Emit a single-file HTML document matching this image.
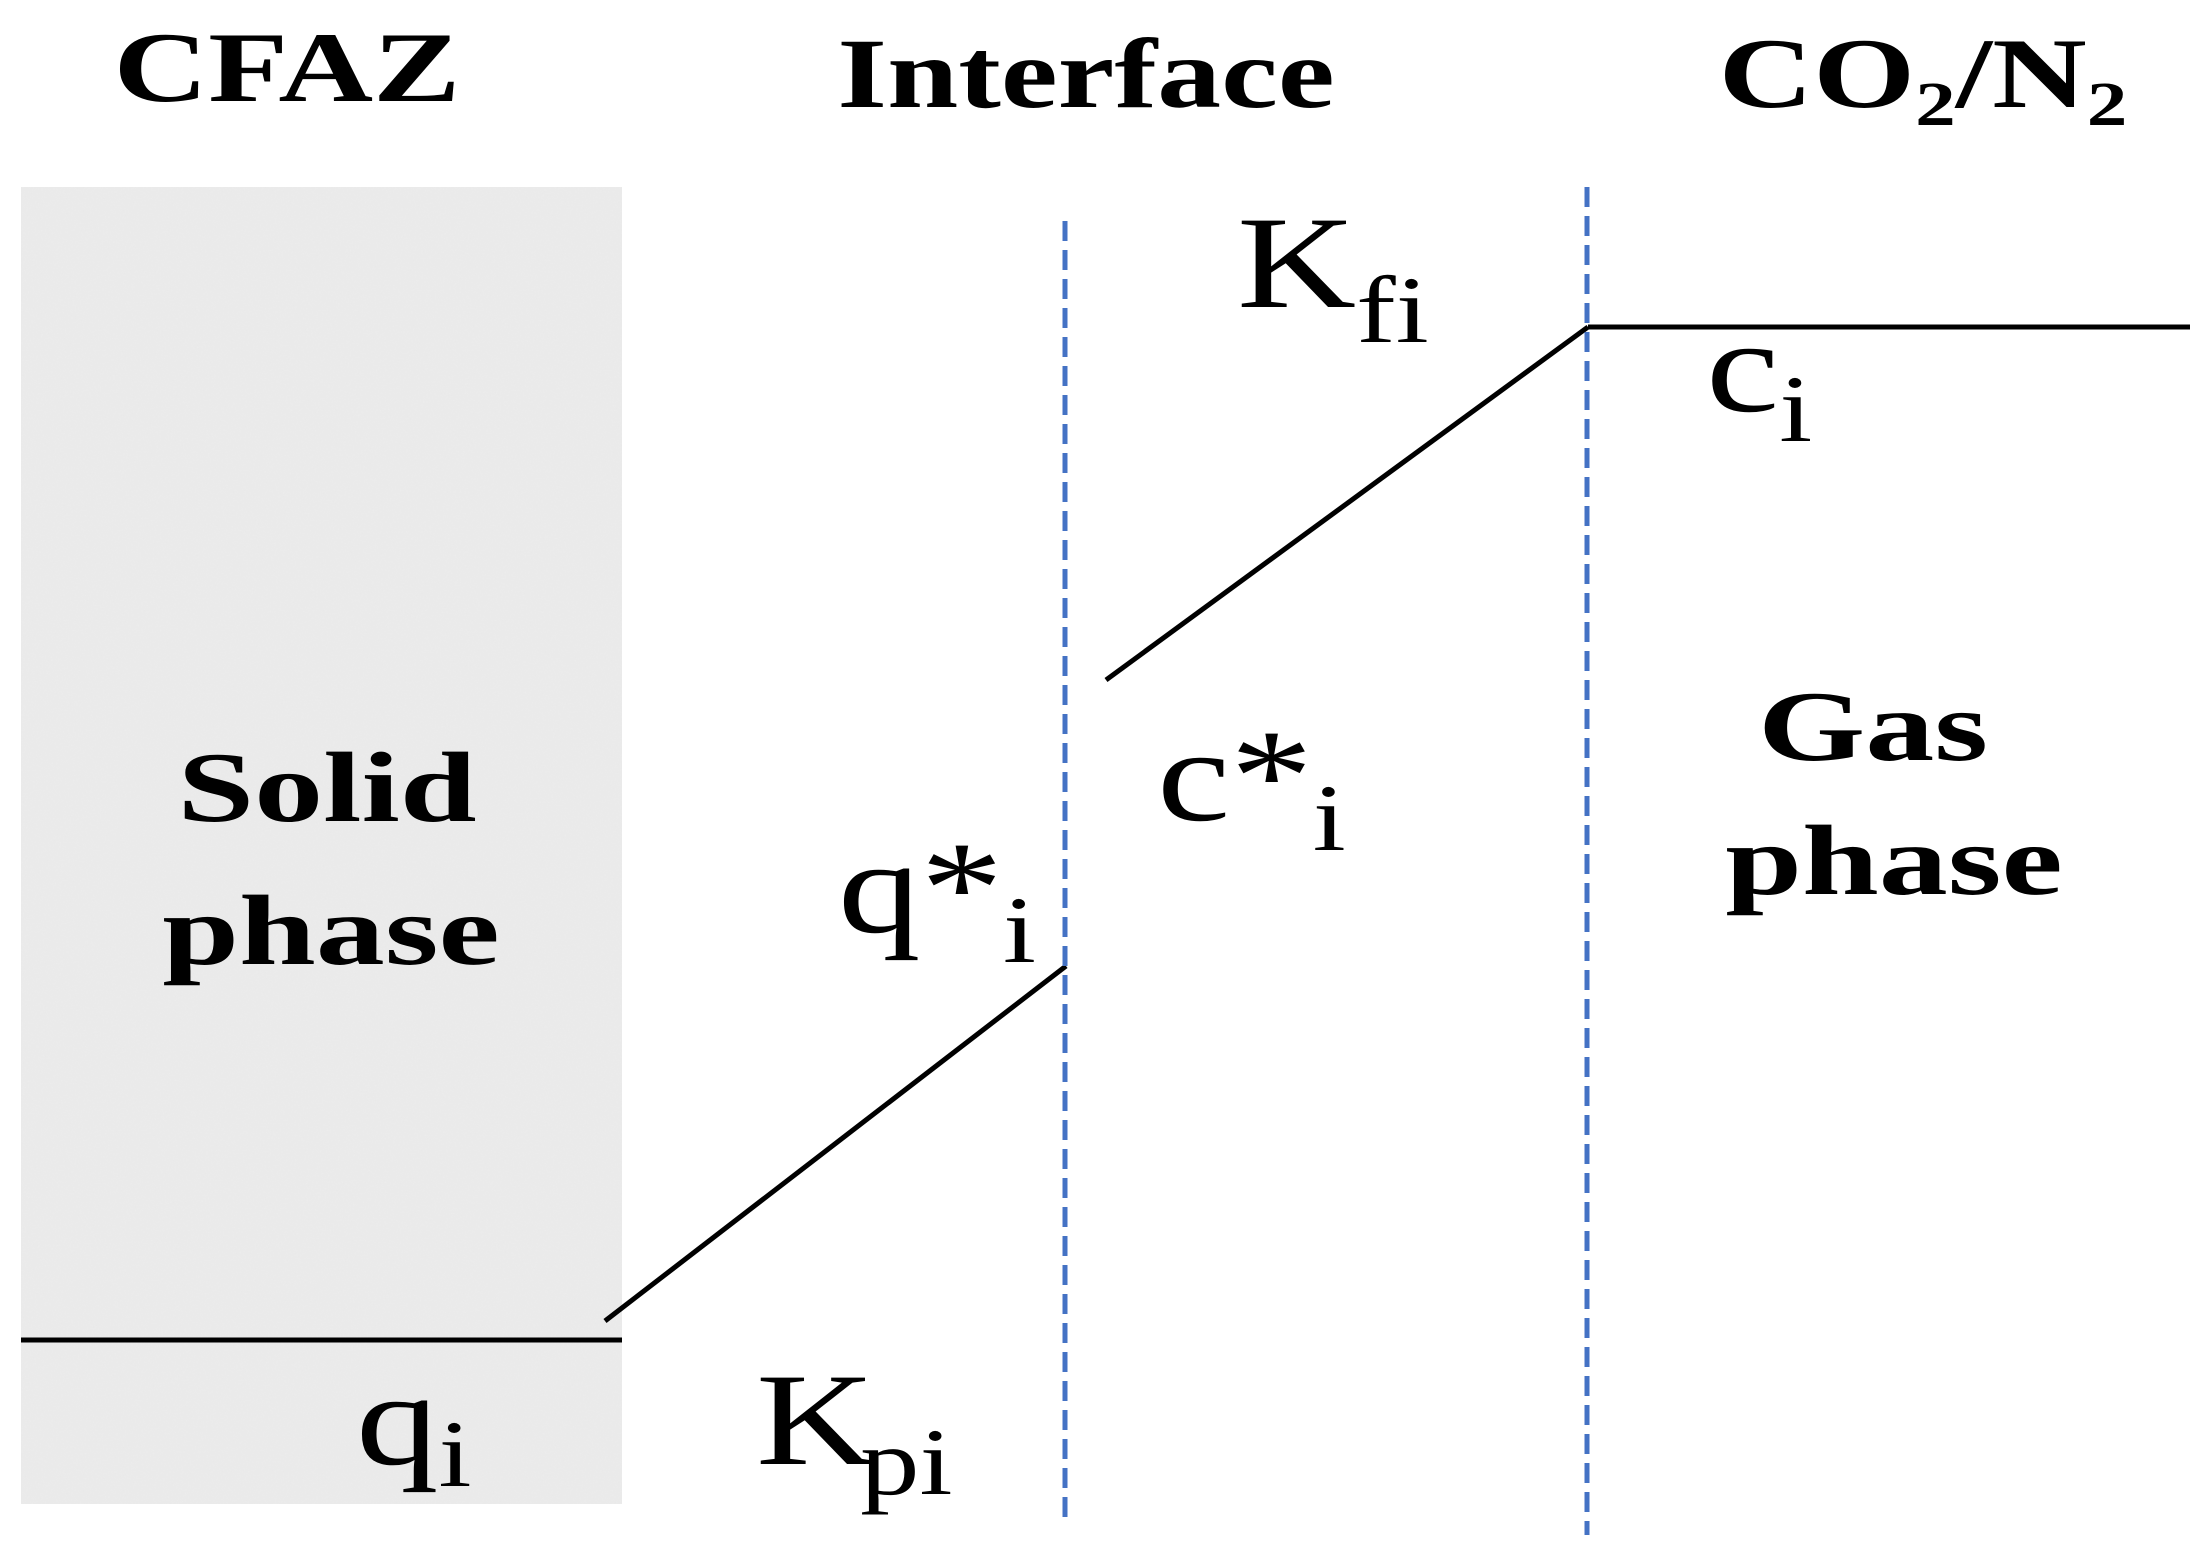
<!DOCTYPE html>
<html><head><meta charset="utf-8"><style>
html,body{margin:0;padding:0;background:#fff;}
svg{display:block;}
text{font-family:"Liberation Serif",serif;fill:#000;}
.b{font-weight:bold;}
</style></head><body>
<svg width="2208" height="1556" viewBox="0 0 2208 1556" xmlns="http://www.w3.org/2000/svg">
<defs>
<filter id="n" x="0" y="0" width="100%" height="100%">
<feTurbulence type="fractalNoise" baseFrequency="0.6" numOctaves="2" seed="3" result="t"/>
<feColorMatrix type="matrix" values="0 0 0 0 0.85  0 0 0 0 0.85  0 0 0 0 0.85  0 0 0 -1.2 1.1" in="t"/>
</filter>
</defs>
<rect x="21" y="187" width="601" height="1317" fill="#e9e9e9"/>
<rect x="21" y="187" width="601" height="1317" fill="#e9e9e9" filter="url(#n)" opacity="0.6"/>
<line x1="21" y1="1340" x2="622" y2="1340" stroke="#000" stroke-width="5"/>
<line x1="605" y1="1321" x2="1066" y2="966" stroke="#000" stroke-width="5"/>
<line x1="1106" y1="680" x2="1588" y2="327" stroke="#000" stroke-width="5"/>
<line x1="1588" y1="327" x2="2190" y2="327" stroke="#000" stroke-width="5"/>
<line x1="1065" y1="221" x2="1065" y2="1518" stroke="#4472c4" stroke-width="5" stroke-dasharray="20 9"/>
<line x1="1587" y1="187" x2="1587" y2="1535" stroke="#4472c4" stroke-width="5" stroke-dasharray="20 9"/>
<g transform="translate(287,101) scale(1.31,1)"><text class="b" font-size="100" text-anchor="middle">CFAZ</text></g>
<g transform="translate(1086,107) scale(1.28,1)"><text class="b" font-size="100" text-anchor="middle">Interface</text></g>
<g transform="translate(1923,107) scale(1.31,1)"><text class="b" font-size="100" text-anchor="middle">CO<tspan font-size="62" dy="18">2</tspan><tspan dy="-18">/N</tspan><tspan font-size="62" dy="18">2</tspan></text></g>
<g transform="translate(327,821) scale(1.38,1)"><text class="b" font-size="100" text-anchor="middle">Solid</text></g>
<g transform="translate(331,964) scale(1.38,1)"><text class="b" font-size="100" text-anchor="middle">phase</text></g>
<g transform="translate(1873,760) scale(1.38,1)"><text class="b" font-size="100" text-anchor="middle">Gas</text></g>
<g transform="translate(1894,894) scale(1.38,1)"><text class="b" font-size="100" text-anchor="middle">phase</text></g>
<g transform="translate(1237,307) scale(1.25,1)"><text font-size="132">K<tspan font-size="95" dy="35">fi</tspan></text></g>
<g transform="translate(1706,411) scale(1.25,1)"><text font-size="132">c<tspan font-size="95" dy="30">i</tspan></text></g>
<g transform="translate(1157,820) scale(1.25,1)"><text font-size="132">c*<tspan font-size="95" dy="30">i</tspan></text></g>
<g transform="translate(838,932) scale(1.25,1)"><text font-size="132">q*<tspan font-size="95" dy="30">i</tspan></text></g>
<g transform="translate(356,1464) scale(1.25,1)"><text font-size="132">q<tspan font-size="95" dy="22">i</tspan></text></g>
<g transform="translate(756,1464) scale(1.25,1)"><text font-size="132">K<tspan font-size="95" dy="30" dx="-12">pi</tspan></text></g>
</svg>
</body></html>
